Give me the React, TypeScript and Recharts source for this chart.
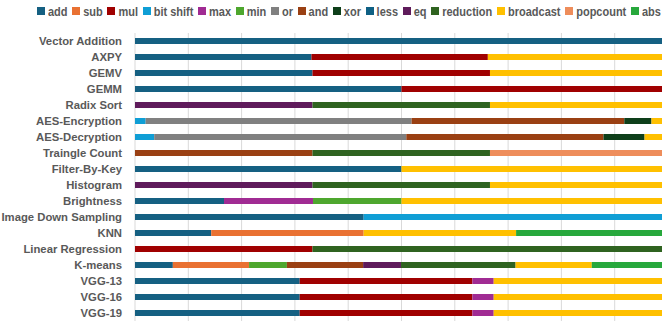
import React from 'react';
import { BarChart, Bar, XAxis, YAxis, CartesianGrid } from 'recharts';

const categories = [
  'Vector Addition', 'AXPY', 'GEMV', 'GEMM', 'Radix Sort', 'AES-Encryption',
  'AES-Decryption', 'Traingle Count', 'Filter-By-Key', 'Histogram', 'Brightness',
  'Image Down Sampling', 'KNN', 'Linear Regression', 'K-means', 'VGG-13', 'VGG-16', 'VGG-19',
];

// share of each op per workload (%), one entry per category above
const add = [100, 33.1, 33.3, 50, 0, 0, 0, 0, 50, 0, 16.7, 42.9, 14.3, 0, 7.1, 30.9, 30.9, 30.9];
const sub = [0, 0, 0, 0, 0, 0, 0, 0, 0, 0, 0, 0, 28.6, 0, 14.3, 0, 0, 0];
const mul = [0, 33.1, 33.3, 50, 0, 0, 0, 0, 0, 0, 0, 0, 0, 33.3, 0, 32.4, 32.4, 32.4];
const bitShift = [0, 0, 0, 0, 0, 2.0, 3.6, 0, 0, 0, 0, 57.1, 0, 0, 0, 0, 0, 0];
const max = [0, 0, 0, 0, 0, 0, 0, 0, 0, 0, 16.7, 0, 0, 0, 0, 4.0, 4.0, 4.0];
const min = [0, 0, 0, 0, 0, 0, 0, 0, 0, 0, 16.6, 0, 0, 0, 7.1, 0, 0, 0];
const or = [0, 0, 0, 0, 0, 49.9, 47.3, 0, 0, 0, 0, 0, 0, 0, 0, 0, 0, 0];
const and = [0, 0, 0, 0, 0, 39.9, 37.0, 33.3, 0, 0, 0, 0, 0, 0, 14.3, 0, 0, 0];
const xor = [0, 0, 0, 0, 0, 5.1, 7.7, 0, 0, 0, 0, 0, 0, 0, 0, 0, 0, 0];
const less = [0, 0, 0, 0, 0, 0, 0, 0, 0, 0, 0, 0, 0, 0, 0, 0, 0, 0];
const eq = [0, 0, 0, 0, 33.3, 0, 0, 0, 0, 33.3, 0, 0, 0, 0, 7.1, 0, 0, 0];
const reduction = [0, 0, 0, 0, 33.3, 0, 0, 33.3, 0, 33.3, 0, 0, 0, 66.7, 21.5, 0, 0, 0];
const broadcast = [0, 33.8, 33.4, 0, 33.4, 3.1, 4.4, 0, 50, 33.4, 50, 0, 28.6, 0, 14.3, 32.7, 32.7, 32.7];
const popcount = [0, 0, 0, 0, 0, 0, 0, 33.4, 0, 0, 0, 0, 0, 0, 0, 0, 0, 0];
const abs = [0, 0, 0, 0, 0, 0, 0, 0, 0, 0, 0, 0, 28.5, 0, 14.3, 0, 0, 0];

const ticks = [0, 10, 20, 30, 40, 50, 60, 70, 80, 90, 100];

const series = [
  { key: 'add', name: 'add', values: add, color: '#156082' },
  { key: 'sub', name: 'sub', values: sub, color: '#E97132' },
  { key: 'mul', name: 'mul', values: mul, color: '#A00000' },
  { key: 'bitShift', name: 'bit shift', values: bitShift, color: '#0F9ED5' },
  { key: 'max', name: 'max', values: max, color: '#A02B93' },
  { key: 'min', name: 'min', values: min, color: '#4EA72E' },
  { key: 'or', name: 'or', values: or, color: '#808080' },
  { key: 'and', name: 'and', values: and, color: '#9A4013' },
  { key: 'xor', name: 'xor', values: xor, color: '#0E3F1A' },
  { key: 'less', name: 'less', values: less, color: '#0F6084' },
  { key: 'eq', name: 'eq', values: eq, color: '#5F1B5B' },
  { key: 'reduction', name: 'reduction', values: reduction, color: '#2F6320' },
  { key: 'broadcast', name: 'broadcast', values: broadcast, color: '#FFC000' },
  { key: 'popcount', name: 'popcount', values: popcount, color: '#EE8D5B' },
  { key: 'abs', name: 'abs', values: abs, color: '#27A83C' },
];

const data = categories.map((name, i) => {
  const row: Record<string, number | string> = { name };
  series.forEach(s => { row[s.key] = s.values[i]; });
  return row;
});

const FONT = "'Liberation Sans', Arial, sans-serif";
const TEXT = '#595959';

// plain svg text so recharts doesn't try to wrap the long names
const CategoryTick = (props: any) => {
  const { x, y, payload } = props;
  return (
    <text x={x} y={y} dy="0.36em" textAnchor="end" fill={TEXT} fontSize={11.3} fontWeight={700} fontFamily={FONT}>
      {payload.value}
    </text>
  );
};

const App: React.FC = () => {
  return (
    <div style={{ position: 'fixed', left: 0, top: 0, width: 662, height: 324, overflow: 'hidden', background: '#fff' }}>
      <div
        style={{
          position: 'absolute', left: 37, top: 4, width: 624, height: 14, display: 'flex', justifyContent: 'space-between',
          whiteSpace: 'nowrap', fontFamily: FONT, fontSize: 11, fontWeight: 700, color: TEXT, lineHeight: '14px',
        }}
      >
        {series.map(s => (
          <span key={s.key} style={{ display: 'inline-flex', alignItems: 'center' }}>
            <span style={{ width: 8, height: 8, background: s.color, marginRight: 3, display: 'inline-block' }} />
            {/* legend type is a tall narrow face, stretch it vertically */}
            <span style={{ display: 'inline-block', transform: 'scaleY(1.18)' }}>{s.name}</span>
          </span>
        ))}
      </div>
      <BarChart
        width={668}
        height={324}
        data={data}
        layout="vertical"
        margin={{ top: 33, right: 0, bottom: 3, left: 0 }}
        barSize={6}
      >
        <CartesianGrid horizontal={false} stroke="#d9d9d9" />
        <XAxis type="number" domain={[0, 100]} ticks={ticks} hide allowDataOverflow />
        <YAxis
          type="category"
          dataKey="name"
          width={135}
          tickSize={0}
          tickMargin={13}
          axisLine={false}
          tickLine={false}
          interval={0}
          tick={<CategoryTick />}
        />
        {series.map(s => (
          <Bar key={s.key} dataKey={s.key} name={s.name} stackId="ops" fill={s.color} isAnimationActive={false} />
        ))}
      </BarChart>
    </div>
  );
};

export default App;
